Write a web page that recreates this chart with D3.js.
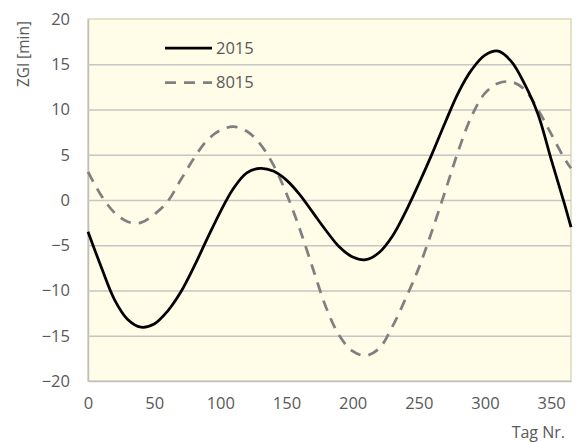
<!DOCTYPE html>
<html>
<head>
<meta charset="utf-8">
<script src="https://cdn.jsdelivr.net/npm/d3@7/dist/d3.min.js"></script>
<style>
  html, body { margin: 0; padding: 0; background: #ffffff; }
  svg { display: block; }
  text { font-family: "Open Sans", "Noto Sans", sans-serif; fill: #595959; }
</style>
</head>
<body>
<svg id="chart" width="577" height="442"></svg>
<script>
// ---- data ----
const seriesNames = ["2015", "8015"];
const days = [0, 10, 20, 30, 40, 50, 60, 70, 80, 90, 100, 110, 120, 130, 140, 150, 160, 170, 180, 190, 200, 210, 220, 230, 240, 250, 260, 270, 280, 290, 300, 310, 320, 330, 340, 350, 360, 365];
const zgl2015 = [-3.5, -7.4, -11.0, -13.2, -14.05, -13.7, -12.3, -10.2, -7.4, -4.3, -1.3, 1.3, 3.0, 3.5, 3.2, 2.2, 0.6, -1.4, -3.4, -5.2, -6.3, -6.6, -5.8, -4.0, -1.3, 1.8, 5.1, 8.6, 11.9, 14.4, 16.0, 16.45, 15.3, 12.8, 9.5, 4.5, -0.4, -3.0];
const zgl8015 = [3.1, 0.5, -1.4, -2.4, -2.5, -1.6, -0.2, 2.2, 4.6, 6.6, 7.7, 8.1, 7.6, 6.2, 3.9, 0.7, -3.2, -7.6, -11.9, -15.0, -16.7, -17.2, -16.4, -14.0, -10.9, -7.5, -3.4, 1.0, 5.5, 9.3, 11.8, 12.9, 13.05, 12.2, 10.0, 7.3, 4.6, 3.5];
const yTicks = [-20, -15, -10, -5, 0, 5, 10, 15, 20];
const xTicks = [0, 50, 100, 150, 200, 250, 300, 350];
const yTitle = "ZGl [min]";
const xTitle = "Tag Nr.";

// ---- layout ----
const svg = d3.select("#chart");
const plot = { left: 88, right: 571, top: 19, bottom: 381 };

const x = d3.scaleLinear().domain([0, 365]).range([plot.left, plot.right]);
const y = d3.scaleLinear().domain([-20, 20]).range([plot.bottom, plot.top]);

// plot background
svg.append("rect")
  .attr("x", plot.left).attr("y", plot.top)
  .attr("width", plot.right - plot.left).attr("height", plot.bottom - plot.top)
  .attr("fill", "#fffce8")
  .attr("stroke", "#ddd8bc").attr("stroke-width", 1.5);

const yAxis = d3.axisLeft(y).tickValues(yTicks).tickSize(0).tickPadding(18).tickFormat(d3.format("d"));
const gY = svg.append("g").attr("transform", `translate(${plot.left},0)`).call(yAxis);
gY.select(".domain").attr("stroke", "#bfbfbf").attr("stroke-width", 1.5);
gY.selectAll(".tick text").attr("font-size", "16.5px").attr("fill", "#595959")
  .style("font-family", '"Open Sans", sans-serif');

const grid = d3.axisLeft(y).tickValues(yTicks.filter(v => v > -20 && v < 20))
  .tickSize(-(plot.right - plot.left)).tickFormat("");
const gGrid = svg.append("g").attr("transform", `translate(${plot.left},0)`).call(grid);
gGrid.select(".domain").remove();
gGrid.selectAll(".tick line").attr("stroke", "#c6c6c6").attr("stroke-width", 1.5);

const xAxis = d3.axisBottom(x).tickValues(xTicks).tickSize(0).tickPadding(16).tickFormat(d3.format("d"));
const gX = svg.append("g").attr("transform", `translate(0,${plot.bottom})`).call(xAxis);
gX.select(".domain").attr("stroke", "#bfbfbf").attr("stroke-width", 1.5);
gX.selectAll(".tick text").attr("font-size", "16.5px").attr("fill", "#595959")
  .style("font-family", '"Open Sans", sans-serif');

// lines
const line = d3.line().x(d => x(d[0])).y(d => y(d[1])).curve(d3.curveCatmullRom.alpha(0.5));
const data2015 = days.map((d, i) => [d, zgl2015[i]]);
const data8015 = days.map((d, i) => [d, zgl8015[i]]);

svg.append("path").datum(data8015)
  .attr("d", line).attr("fill", "none")
  .attr("stroke", "#808080").attr("stroke-width", 2.75)
  .attr("stroke-dasharray", "11,8");

svg.append("path").datum(data2015)
  .attr("d", line).attr("fill", "none")
  .attr("stroke", "#000000").attr("stroke-width", 2.75);

// legend
const legend = svg.append("g");
const legendItems = [
  { name: seriesNames[0], color: "#000000", dash: null, yy: 48 },
  { name: seriesNames[1], color: "#808080", dash: "11,8", yy: 82.5 }
];
legendItems.forEach(it => {
  legend.append("line").attr("x1", 165).attr("x2", 212).attr("y1", it.yy).attr("y2", it.yy)
    .attr("stroke", it.color).attr("stroke-width", 2.75)
    .attr("stroke-dasharray", it.dash);
  legend.append("text").attr("x", 216).attr("y", it.yy).attr("dy", "0.35em")
    .attr("font-size", "16.5px").text(it.name);
});

// axis titles
svg.append("text")
  .attr("transform", "translate(29,54) rotate(-90)")
  .attr("text-anchor", "middle")
  .attr("font-size", "15.5px").text(yTitle);

svg.append("text")
  .attr("x", 565).attr("y", 438)
  .attr("text-anchor", "end")
  .attr("font-size", "16px").text(xTitle);
</script>
</body>
</html>
